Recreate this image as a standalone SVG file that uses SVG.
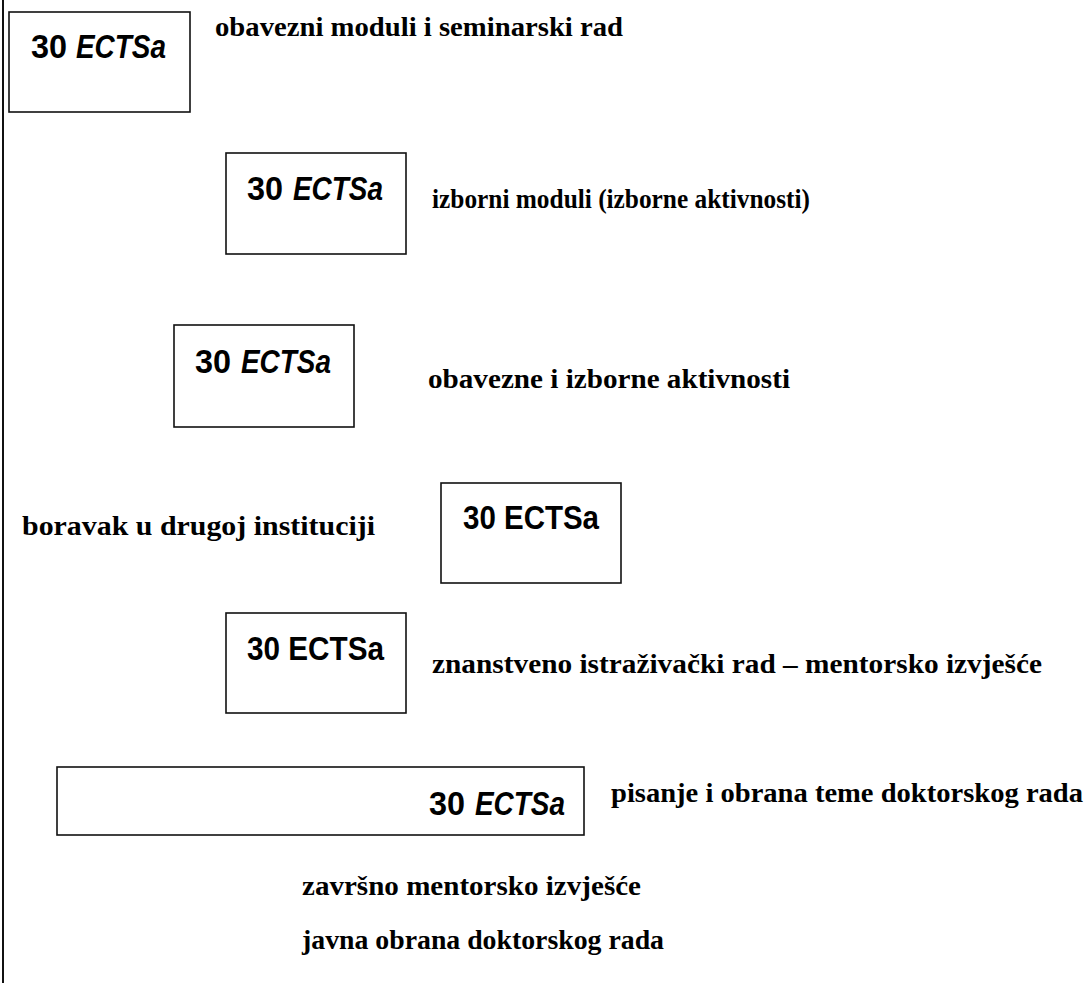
<svg xmlns="http://www.w3.org/2000/svg" width="1090" height="983" viewBox="0 0 1090 983">
<style>
.box{fill:#fff;stroke:#111;stroke-width:1.6}
.ects{font-family:"Liberation Sans",Arial,sans-serif;font-weight:bold;font-size:34px;fill:#000}
.it{font-style:italic}
.lbl{font-family:"Liberation Serif","Times New Roman",serif;font-weight:bold;font-size:28px;fill:#000}
</style>
<rect width="1090" height="983" fill="#fff"/>
<g id="connectors">
<line x1="3" y1="0" x2="3" y2="983" stroke="#111" stroke-width="2"/>
</g>
<g id="n1">
<rect class="box" x="9" y="12" width="181" height="100"/>
<text class="ects" x="31" y="58" textLength="36" lengthAdjust="spacingAndGlyphs">30</text>
<text class="ects it" x="76" y="58" textLength="90" lengthAdjust="spacingAndGlyphs">ECTSa</text>
</g>
<g id="l1"><text class="lbl" x="215" y="36" textLength="408" lengthAdjust="spacingAndGlyphs">obavezni moduli i seminarski rad</text></g>
<g id="n2">
<rect class="box" x="226" y="153" width="180" height="101"/>
<text class="ects" x="247" y="200" textLength="36" lengthAdjust="spacingAndGlyphs">30</text>
<text class="ects it" x="293" y="200" textLength="90" lengthAdjust="spacingAndGlyphs">ECTSa</text>
</g>
<g id="l2"><text class="lbl" x="432" y="208" textLength="378" lengthAdjust="spacingAndGlyphs">izborni moduli (izborne aktivnosti)</text></g>
<g id="n3">
<rect class="box" x="174" y="325" width="180" height="102"/>
<text class="ects" x="195" y="373" textLength="36" lengthAdjust="spacingAndGlyphs">30</text>
<text class="ects it" x="241" y="373" textLength="90" lengthAdjust="spacingAndGlyphs">ECTSa</text>
</g>
<g id="l3"><text class="lbl" x="428" y="388" textLength="362" lengthAdjust="spacingAndGlyphs">obavezne i izborne aktivnosti</text></g>
<g id="n4">
<rect class="box" x="441" y="483" width="180" height="100"/>
<text class="ects" x="463" y="529" textLength="136" lengthAdjust="spacingAndGlyphs">30 ECTSa</text>
</g>
<g id="l4"><text class="lbl" x="22" y="535" textLength="353" lengthAdjust="spacingAndGlyphs">boravak u drugoj instituciji</text></g>
<g id="n5">
<rect class="box" x="226" y="613" width="180" height="100"/>
<text class="ects" x="247" y="660" textLength="137" lengthAdjust="spacingAndGlyphs">30 ECTSa</text>
</g>
<g id="l5"><text class="lbl" x="432" y="673" textLength="610" lengthAdjust="spacingAndGlyphs">znanstveno istraživački rad – mentorsko izvješće</text></g>
<g id="n6">
<rect class="box" x="57" y="767" width="527" height="68"/>
<text class="ects" x="429" y="815" textLength="36" lengthAdjust="spacingAndGlyphs">30</text>
<text class="ects it" x="475" y="815" textLength="90" lengthAdjust="spacingAndGlyphs">ECTSa</text>
</g>
<g id="l6"><text class="lbl" x="611" y="802" textLength="472" lengthAdjust="spacingAndGlyphs">pisanje i obrana teme doktorskog rada</text></g>
<g id="l7"><text class="lbl" x="302" y="895" textLength="339" lengthAdjust="spacingAndGlyphs">završno mentorsko izvješće</text></g>
<g id="l8"><text class="lbl" x="302" y="949" textLength="362" lengthAdjust="spacingAndGlyphs">javna obrana doktorskog rada</text></g>
</svg>
